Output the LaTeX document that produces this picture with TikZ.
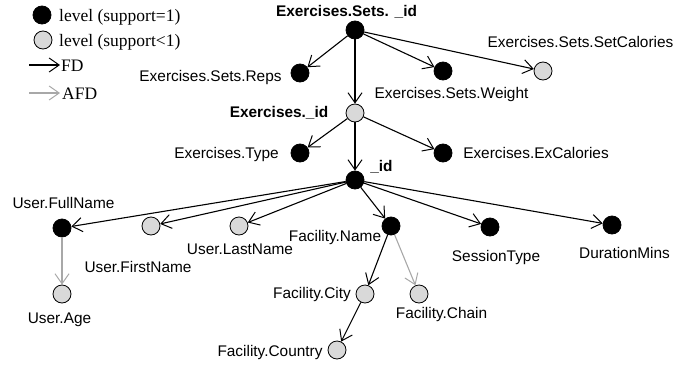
\documentclass[tikz,border=0pt]{standalone}
\usepackage{fontspec}
\setmainfont{Liberation Sans}
\newfontfamily\legendfont{Liberation Serif}
\usetikzlibrary{arrows.meta}
\definecolor{lvlgray}{HTML}{D9D9D9}
\definecolor{afdgray}{HTML}{A8A8A8}
\begin{document}
\begin{tikzpicture}[x=1pt,y=-1pt,
  full/.style={circle,draw=black,fill=black,minimum size=18pt,inner sep=0pt,line width=0.8pt},
  part/.style={full,fill=lvlgray},
  lbl/.style={anchor=base,inner sep=0pt,font=\fontsize{15.4}{18}\selectfont},
  blbl/.style={lbl,font=\fontsize{15.4}{18}\selectfont\bfseries},
  leg/.style={anchor=base west,inner sep=0pt,font=\legendfont\fontsize{17.5}{20}\selectfont},
  fd/.style={arrows={-Straight Barb[length=10pt,width=14pt,line width=1pt]},line width=1.1pt,draw=black},
  afd/.style={fd,draw=afdgray}]
\useasboundingbox (0,0) rectangle (676,364);

% legend
\node[full] (legfull) at (42,15) {};
\node[leg] (legfulltxt) at (59,21) {level (support=1)};
\node[part] (legpart) at (43,40) {};
\node[leg] (legparttxt) at (59,46) {level (support<1)};
\coordinate (fdA) at (29,65);
\coordinate (fdB) at (60,65);
\draw[fd] (fdA) -- (fdB);
\node[leg] (fdtxt) at (61,71) {FD};
\coordinate (afdA) at (29,93);
\coordinate (afdB) at (60,93);
\draw[afd] (afdA) -- (afdB);
\node[leg] (afdtxt) at (62,99) {AFD};

% nodes
\node[full] (setsid) at (355,30) {};
\node[full] (reps) at (300,73) {};
\node[full] (weight) at (443,71) {};
\node[part] (setcal) at (543,71) {};
\node[part] (exid) at (355,113) {};
\node[full] (type) at (300,153) {};
\node[full] (excal) at (443,153) {};
\node[full] (id) at (355,180) {};
\node[full] (fullname) at (62,228) {};
\node[part] (firstname) at (151,226) {};
\node[part] (lastname) at (239,226) {};
\node[full] (facname) at (391,226) {};
\node[full] (sesstype) at (490,227) {};
\node[full] (duration) at (612,225) {};
\node[part] (age) at (62,294) {};
\node[part] (city) at (365,294) {};
\node[part] (chain) at (419,294) {};
\node[part] (country) at (337,350) {};

% labels
\node[blbl] (Lsetsid) at (346.5,16.5) {Exercises.Sets. \_id};
\node[lbl] (Lreps) at (210.5,81.5) {Exercises.Sets.Reps};
\node[lbl] (Lweight) at (451.5,98.5) {Exercises.Sets.Weight};
\node[lbl] (Lsetcal) at (580.5,47.5) {Exercises.Sets.SetCalories};
\node[blbl] (Lexid) at (279,117.5) {Exercises.\_id};
\node[lbl] (Ltype) at (226.5,158.5) {Exercises.Type};
\node[lbl] (Lexcal) at (536,158.5) {Exercises.ExCalories};
\node[blbl] (Lid) at (381.5,171.5) {\_id};
\node[lbl] (Lfullname) at (63.5,208.5) {User.FullName};
\node[lbl] (Lfirstname) at (138,272.5) {User.FirstName};
\node[lbl] (Llastname) at (240,254.5) {User.LastName};
\node[lbl] (Lfacname) at (335,241.5) {Facility.Name};
\node[lbl] (Lsesstype) at (496,261.5) {SessionType};
\node[lbl] (Lduration) at (624.5,258.5) {DurationMins};
\node[lbl] (Lage) at (59.5,323.5) {User.Age};
\node[lbl] (Lcity) at (312,298.5) {Facility.City};
\node[lbl] (Lchain) at (441.5,318.5) {Facility.Chain};
\node[lbl] (Lcountry) at (270,356.5) {Facility.Country};

% FD edges
\draw[fd] (setsid) -- (reps);
\draw[fd] (setsid) -- (exid);
\draw[fd] (setsid) -- (weight);
\draw[fd] (setsid) -- (setcal);
\draw[fd] (exid) -- (type);
\draw[fd] (exid) -- (excal);
\draw[fd] (exid) -- (id);
\draw[fd] (id) -- (fullname);
\draw[fd] (id) -- (firstname);
\draw[fd] (id) -- (lastname);
\draw[fd] (id) -- (facname);
\draw[fd] (id) -- (sesstype);
\draw[fd] (id) -- (duration);
\draw[fd] (facname) -- (city);
\draw[fd] (city) -- (country);
% AFD edges
\draw[afd] (fullname) -- (age);
\draw[afd] (facname) -- (chain);
\end{tikzpicture}
\end{document}
